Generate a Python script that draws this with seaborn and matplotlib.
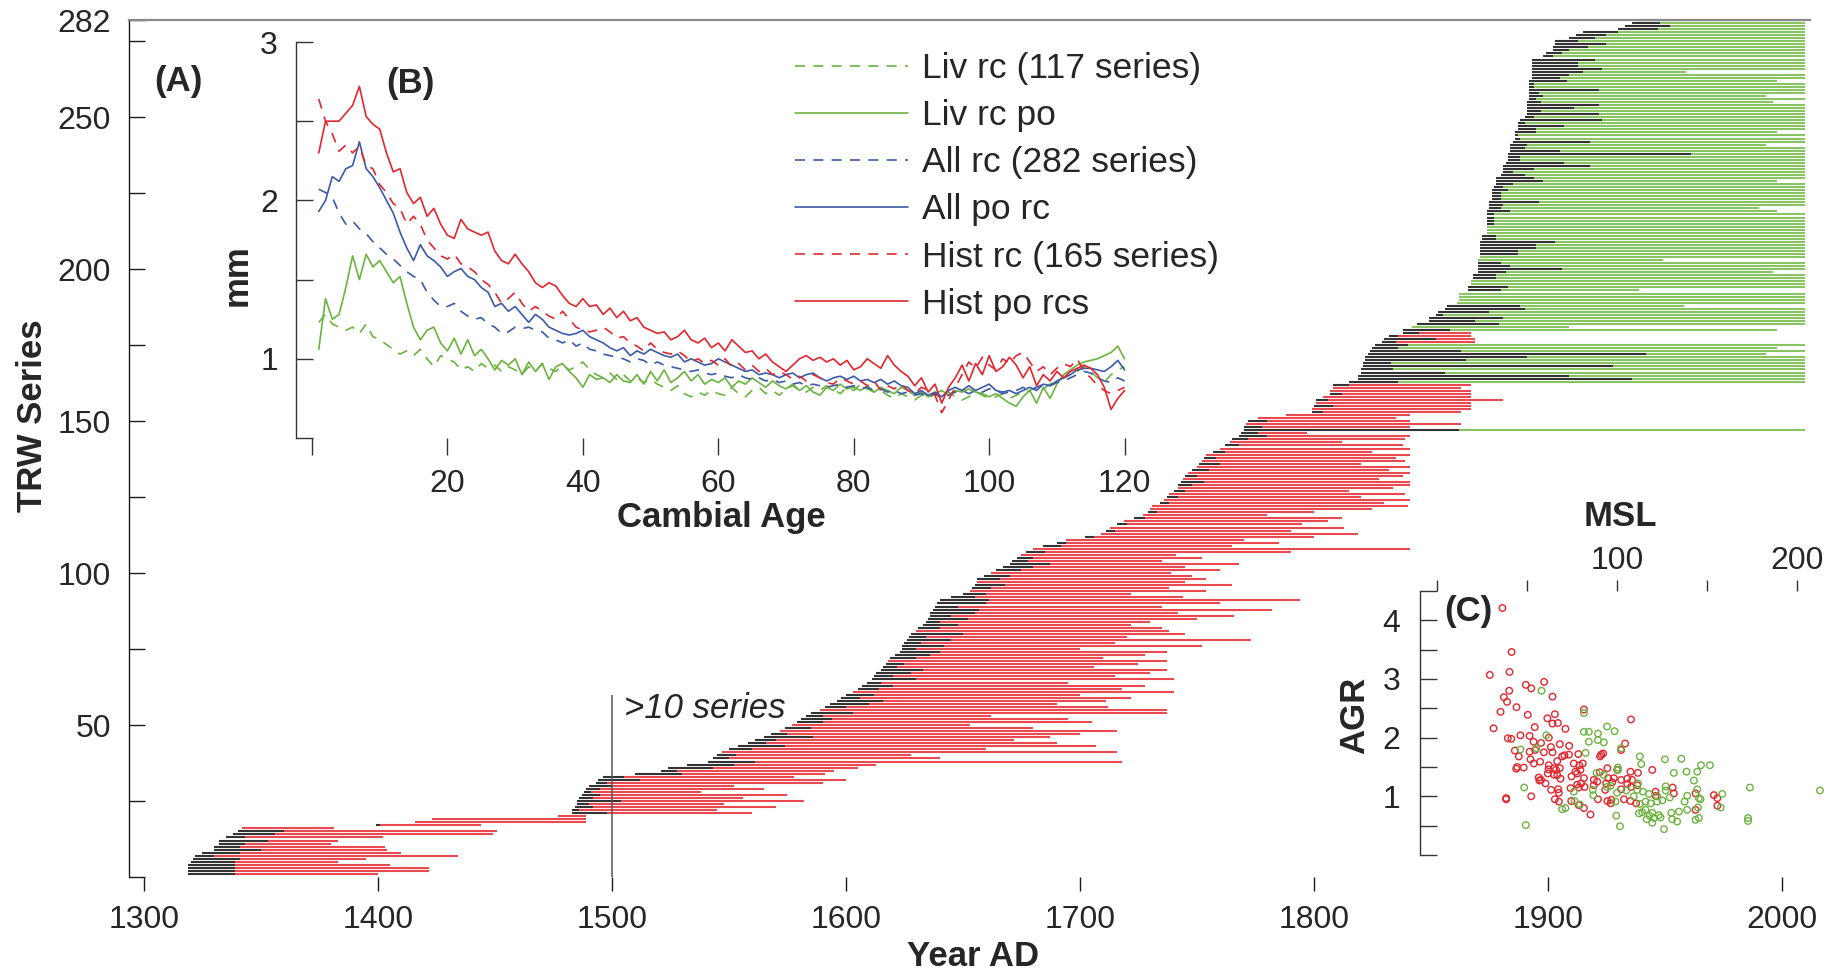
import numpy as np
import matplotlib
matplotlib.use("Agg")
import matplotlib.pyplot as plt
from matplotlib.lines import Line2D
import seaborn as sns

# ---------------- (A) TRW series: start year, end of black (pith offset) part, last year, H=historic / L=living
series_start = [
    1319, 1319, 1319, 1319, 1320, 1321, 1322, 1325, 1330, 1330, 1332, 1332, 1335, 1338, 1340, 1342, 1399, 1416, 1423, 1477,
    1483, 1483, 1484, 1485, 1485, 1486, 1487, 1488, 1489, 1490, 1493, 1494, 1496, 1510, 1521, 1524, 1532, 1541, 1543, 1545,
    1547, 1550, 1554, 1558, 1561, 1565, 1568, 1572, 1574, 1577, 1579, 1581, 1583, 1585, 1589, 1591, 1593, 1596, 1598, 1600,
    1603, 1605, 1607, 1609, 1611, 1612, 1613, 1615, 1616, 1617, 1618, 1619, 1621, 1623, 1624, 1624, 1625, 1626, 1627, 1628,
    1630, 1631, 1633, 1634, 1635, 1636, 1636, 1637, 1638, 1639, 1640, 1645, 1650, 1653, 1654, 1655, 1656, 1656, 1659, 1662,
    1664, 1667, 1670, 1671, 1673, 1675, 1677, 1680, 1684, 1690, 1694, 1702, 1709, 1711, 1713, 1716, 1719, 1723, 1727, 1729,
    1730, 1731, 1734, 1736, 1737, 1738, 1740, 1742, 1742, 1743, 1744, 1745, 1746, 1748, 1750, 1751, 1752, 1753, 1754, 1757,
    1760, 1762, 1764, 1765, 1768, 1769, 1770, 1770, 1771, 1772, 1776, 1788, 1799, 1799, 1800, 1801, 1801, 1804, 1807, 1807,
    1808, 1808, 1815, 1819, 1819, 1820, 1820, 1821, 1821, 1822, 1822, 1823, 1824, 1825, 1826, 1829, 1830, 1832, 1838, 1838,
    1842, 1844, 1849, 1849, 1852, 1853, 1856, 1857, 1861, 1862, 1862, 1862, 1866, 1866, 1867, 1867, 1868, 1868, 1870, 1870,
    1870, 1870, 1870, 1871, 1871, 1871, 1871, 1871, 1871, 1872, 1872, 1874, 1874, 1874, 1874, 1874, 1874, 1874, 1874, 1875,
    1875, 1875, 1876, 1876, 1876, 1876, 1877, 1878, 1878, 1878, 1880, 1881, 1881, 1881, 1882, 1883, 1883, 1883, 1884, 1884,
    1884, 1885, 1886, 1886, 1886, 1887, 1887, 1887, 1888, 1890, 1891, 1891, 1891, 1891, 1891, 1892, 1892, 1892, 1892, 1892,
    1892, 1892, 1893, 1893, 1893, 1893, 1893, 1893, 1893, 1898, 1899, 1902, 1902, 1903, 1903, 1909, 1912, 1915, 1930, 1933,
    1936, 1938]
series_pith = [
    1339, 1339, 1339, 1339, 1339, 1341, 1330, 1341, 1350, 1341, 1343, 1353, 1343, 1356, 1360, 1342, 1401, 1416, 1423, 1477,
    1498, 1486, 1492, 1490, 1504, 1492, 1495, 1491, 1495, 1500, 1498, 1512, 1505, 1530, 1528, 1543, 1552, 1561, 1550, 1553,
    1547, 1560, 1574, 1566, 1570, 1586, 1575, 1572, 1585, 1577, 1590, 1594, 1590, 1603, 1589, 1600, 1610, 1616, 1606, 1612,
    1603, 1614, 1620, 1615, 1630, 1620, 1628, 1633, 1622, 1625, 1618, 1630, 1636, 1640, 1630, 1642, 1632, 1645, 1634, 1650,
    1630, 1640, 1648, 1640, 1652, 1645, 1655, 1657, 1648, 1660, 1661, 1655, 1660, 1653, 1662, 1668, 1656, 1666, 1670, 1662,
    1675, 1680, 1687, 1678, 1680, 1675, 1685, 1680, 1692, 1694, 1694, 1706, 1709, 1715, 1713, 1720, 1719, 1728, 1727, 1733,
    1730, 1731, 1738, 1736, 1742, 1738, 1745, 1742, 1748, 1753, 1744, 1750, 1746, 1755, 1750, 1760, 1752, 1758, 1754, 1762,
    1760, 1768, 1764, 1772, 1780, 1776, 1862, 1778, 1771, 1780, 1776, 1788, 1804, 1799, 1808, 1801, 1806, 1804, 1812, 1807,
    1808, 1815, 1836, 1936, 1909, 1856, 1834, 1928, 1833, 1865, 1891, 1942, 1863, 1836, 1840, 1835, 1852, 1836, 1845, 1858,
    1842, 1879, 1869, 1881, 1855, 1875, 1890, 1888, 1861, 1862, 1862, 1862, 1880, 1883, 1867, 1867, 1878, 1878, 1882, 1906,
    1884, 1880, 1870, 1871, 1887, 1887, 1895, 1895, 1903, 1878, 1878, 1874, 1874, 1874, 1877, 1877, 1877, 1877, 1884, 1880,
    1881, 1896, 1880, 1880, 1880, 1883, 1881, 1885, 1898, 1894, 1890, 1885, 1894, 1918, 1907, 1888, 1888, 1961, 1905, 1890,
    1891, 1918, 1888, 1887, 1895, 1895, 1907, 1890, 1923, 1894, 1922, 1897, 1911, 1922, 1897, 1895, 1898, 1896, 1922, 1894,
    1894, 1908, 1905, 1909, 1915, 1923, 1913, 1913, 1920, 1902, 1906, 1909, 1917, 1925, 1913, 1920, 1925, 1930, 1947, 1952,
    1948, 1951]
series_end = [
    1400, 1422, 1422, 1405, 1383, 1395, 1434, 1410, 1404, 1403, 1380, 1383, 1402, 1449, 1451, 1381, 1444, 1489, 1489, 1489,
    1560, 1545, 1570, 1548, 1582, 1556, 1575, 1538, 1565, 1552, 1590, 1600, 1578, 1591, 1595, 1605, 1613, 1718, 1640, 1628,
    1716, 1660, 1707, 1690, 1672, 1687, 1700, 1716, 1680, 1653, 1705, 1695, 1662, 1737, 1737, 1712, 1690, 1711, 1722, 1700,
    1740, 1718, 1728, 1695, 1740, 1715, 1730, 1737, 1706, 1725, 1737, 1710, 1728, 1737, 1700, 1752, 1715, 1773, 1720, 1745,
    1738, 1735, 1722, 1730, 1750, 1766, 1742, 1782, 1735, 1760, 1794, 1744, 1722, 1754, 1738, 1765, 1745, 1754, 1748, 1739,
    1760, 1745, 1768, 1735, 1752, 1741, 1790, 1841, 1765, 1785, 1770, 1800, 1819, 1790, 1813, 1795, 1806, 1812, 1780, 1800,
    1825, 1840, 1830, 1841, 1820, 1839, 1815, 1834, 1841, 1841, 1828, 1838, 1841, 1832, 1841, 1820, 1839, 1835, 1841, 1825,
    1841, 1838, 1812, 1839, 1841, 1797, 2010, 1841, 1863, 1841, 1835, 1841, 1863, 1867, 1867, 1867, 1881, 1867, 1867, 1867,
    1863, 1867, 2010, 2010, 2010, 2010, 2010, 2010, 2010, 2010, 2010, 1993, 2010, 1998, 2010, 1869, 1869, 1867, 1867, 1998,
    1909, 2010, 2010, 2010, 2010, 2010, 2010, 1958, 2010, 2010, 2010, 2010, 1939, 2010, 2010, 2010, 2010, 2010, 1996, 2010,
    2010, 2010, 1949, 2010, 2010, 2010, 2010, 2010, 2010, 2010, 2010, 2010, 2010, 2010, 2010, 2010, 2010, 2010, 1998, 1990,
    2010, 2010, 2010, 2010, 2010, 2010, 2010, 2010, 1998, 2010, 2010, 2010, 2010, 2010, 2010, 2010, 2010, 2010, 2010, 2010,
    1993, 2010, 2010, 2010, 1998, 2010, 2010, 2010, 2010, 2010, 2010, 2010, 2010, 2010, 1996, 2010, 1993, 2010, 2010, 2010,
    2010, 1998, 2010, 2010, 1959, 2010, 2010, 2010, 2010, 2010, 2010, 2010, 2010, 2010, 2010, 2010, 2010, 2010, 2010, 2010,
    2010, 2010]
series_kind = (
    "HHHHHHHHHHHHHHHHHHHH" "HHHHHHHHHHHHHHHHHHHH" "HHHHHHHHHHHHHHHHHHHH" "HHHHHHHHHHHHHHHHHHHH"
    "HHHHHHHHHHHHHHHHHHHH" "HHHHHHHHHHHHHHHHHHHH" "HHHHHHHHHHHHHHHHHHHH" "HHHHHHLHHHHHHHHHHHHH"
    "HHLLLLLLLLLLLLLHHHHL" "LLLLLLLLLLLLLLLLLLLL" "LLLLLLLLLLLLLLLLLLLL" "LLLLLLLLLLLLLLLLLLLL"
    "LLLLLLLLLLLLLLLLLLLL" "LLLLLLLLLLLLLLLLLLLL" "LL")

# ---------------- (B) regional curves, mm per cambial age
cambial_age = list(range(1, 121))
liv_rc = [1.23, 1.28, 1.22, 1.20, 1.18, 1.20, 1.16, 1.22, 1.14, 1.12, 1.09, 1.06, 1.03, 1.05, 1.02, 1.06, 1.00, 0.95, 1.02, 1.00,
          0.98, 0.93, 0.95, 0.92, 0.97, 0.94, 0.96, 0.92, 0.95, 0.93, 0.90, 0.95, 0.92, 0.97, 0.94, 0.92, 0.96, 0.93, 0.95, 0.98,
          0.93, 0.90, 0.88, 0.91, 0.87, 0.90, 0.86, 0.88, 0.85, 0.87, 0.84, 0.82, 0.80, 0.83, 0.78, 0.76, 0.79, 0.77, 0.80, 0.78,
          0.77, 0.82, 0.78, 0.76, 0.80, 0.82, 0.78, 0.80, 0.77, 0.81, 0.83, 0.80, 0.79, 0.82, 0.80, 0.83, 0.81, 0.78, 0.82, 0.80,
          0.84, 0.81, 0.79, 0.80, 0.77, 0.75, 0.78, 0.76, 0.74, 0.77, 0.75, 0.78, 0.76, 0.79, 0.76, 0.74, 0.76, 0.79, 0.77, 0.75,
          0.76, 0.78, 0.75, 0.77, 0.79, 0.80, 0.82, 0.81, 0.84, 0.86, 0.88, 0.90, 0.92, 0.95, 0.92, 0.88, 0.85, 0.90, 0.93, 0.95]
liv_po = [1.06, 1.38, 1.25, 1.28, 1.45, 1.65, 1.50, 1.66, 1.58, 1.62, 1.55, 1.48, 1.52, 1.35, 1.20, 1.12, 1.18, 1.20, 1.10, 1.05,
          1.13, 1.03, 1.12, 1.02, 1.06, 1.00, 0.93, 0.99, 0.96, 1.00, 0.90, 0.98, 0.92, 0.97, 0.87, 0.95, 0.97, 0.92, 0.88, 0.82,
          0.90, 0.87, 0.88, 0.85, 0.90, 0.86, 0.85, 0.90, 0.84, 0.92, 0.86, 0.93, 0.85, 0.88, 0.92, 0.86, 0.90, 0.84, 0.87, 0.85,
          0.88, 0.82, 0.86, 0.84, 0.88, 0.85, 0.82, 0.86, 0.83, 0.81, 0.84, 0.80, 0.83, 0.79, 0.77, 0.82, 0.80, 0.84, 0.81, 0.82,
          0.80, 0.83, 0.79, 0.82, 0.80, 0.78, 0.82, 0.80, 0.77, 0.79, 0.76, 0.78, 0.80, 0.77, 0.80, 0.79, 0.81, 0.79, 0.78, 0.76,
          0.78, 0.75, 0.72, 0.70, 0.76, 0.80, 0.72, 0.82, 0.75, 0.84, 0.90, 0.93, 0.96, 0.98, 0.99, 1.00, 1.02, 1.04, 1.08, 1.00]
all_rc = [2.07, 2.05, 2.02, 1.92, 1.85, 1.87, 1.82, 1.79, 1.74, 1.70, 1.66, 1.63, 1.59, 1.55, 1.52, 1.50, 1.42, 1.37, 1.33, 1.33,
          1.35, 1.30, 1.27, 1.25, 1.26, 1.22, 1.20, 1.16, 1.17, 1.20, 1.19, 1.20, 1.18, 1.17, 1.13, 1.12, 1.10, 1.12, 1.08, 1.10,
          1.06, 1.05, 1.03, 1.02, 1.01, 1.00, 0.98, 1.00, 0.99, 0.96, 0.98, 0.96, 0.95, 0.94, 0.93, 0.92, 0.93, 0.91, 0.90, 0.91,
          0.89, 0.88, 0.90, 0.88, 0.87, 0.88, 0.86, 0.87, 0.85, 0.86, 0.84, 0.85, 0.83, 0.84, 0.83, 0.82, 0.83, 0.84, 0.82, 0.83,
          0.81, 0.82, 0.80, 0.81, 0.79, 0.80, 0.78, 0.79, 0.77, 0.78, 0.76, 0.78, 0.75, 0.77, 0.79, 0.80, 0.78, 0.80, 0.79, 0.81,
          0.80, 0.78, 0.79, 0.80, 0.82, 0.80, 0.82, 0.84, 0.83, 0.85, 0.86, 0.88, 0.90, 0.92, 0.91, 0.88, 0.86, 0.85, 0.88, 0.86]
all_po = [1.93, 2.00, 2.15, 2.12, 2.20, 2.22, 2.37, 2.20, 2.15, 2.08, 2.00, 1.92, 1.80, 1.70, 1.62, 1.72, 1.65, 1.62, 1.58, 1.52,
          1.55, 1.57, 1.52, 1.50, 1.45, 1.42, 1.33, 1.35, 1.30, 1.33, 1.28, 1.23, 1.28, 1.25, 1.20, 1.18, 1.16, 1.15, 1.16, 1.18,
          1.14, 1.12, 1.10, 1.07, 1.05, 1.07, 1.02, 1.05, 1.03, 1.06, 1.04, 1.02, 1.01, 1.03, 0.98, 1.00, 0.98, 0.96, 0.97, 1.00,
          0.98, 0.96, 0.94, 0.92, 0.93, 0.90, 0.91, 0.90, 0.88, 0.90, 0.91, 0.88, 0.90, 0.91, 0.88, 0.86, 0.88, 0.89, 0.87, 0.89,
          0.86, 0.87, 0.85, 0.87, 0.84, 0.86, 0.83, 0.82, 0.78, 0.80, 0.77, 0.79, 0.76, 0.80, 0.82, 0.80, 0.83, 0.80, 0.82, 0.84,
          0.80, 0.79, 0.80, 0.78, 0.80, 0.82, 0.80, 0.84, 0.83, 0.86, 0.88, 0.90, 0.93, 0.94, 0.94, 0.93, 0.92, 0.95, 0.99, 0.93]
hist_rc = [2.64, 2.50, 2.42, 2.31, 2.35, 2.30, 2.34, 2.22, 2.20, 2.10, 2.05, 1.98, 1.95, 1.85, 1.90, 1.85, 1.75, 1.70, 1.65, 1.63,
           1.66, 1.60, 1.58, 1.55, 1.50, 1.47, 1.42, 1.35, 1.38, 1.42, 1.35, 1.30, 1.33, 1.30, 1.27, 1.25, 1.30, 1.25, 1.20, 1.18,
           1.17, 1.18, 1.20, 1.17, 1.13, 1.14, 1.10, 1.08, 1.05, 1.10, 1.06, 1.04, 1.03, 1.05, 1.02, 0.98, 1.00, 0.97, 0.99, 0.96,
           1.00, 0.95, 0.97, 0.93, 0.96, 0.92, 0.94, 0.90, 0.92, 0.90, 0.87, 0.89, 0.86, 0.90, 0.88, 0.85, 0.84, 0.88, 0.86, 0.84,
           0.86, 0.83, 0.86, 0.80, 0.83, 0.81, 0.84, 0.80, 0.78, 0.82, 0.80, 0.77, 0.66, 0.74, 0.82, 0.90, 0.98, 0.94, 1.01, 0.96,
           0.93, 1.00, 0.97, 1.02, 1.04, 0.98, 0.92, 0.95, 0.90, 0.94, 0.97, 0.95, 1.00, 0.92, 0.88, 0.83, 0.80, 0.78, 0.80, 0.82]
hist_po = [2.30, 2.50, 2.50, 2.50, 2.55, 2.60, 2.72, 2.53, 2.48, 2.45, 2.30, 2.18, 2.20, 2.05, 1.98, 2.02, 1.90, 1.95, 1.85, 1.78,
           1.76, 1.88, 1.82, 1.80, 1.78, 1.80, 1.68, 1.62, 1.60, 1.66, 1.60, 1.55, 1.48, 1.45, 1.48, 1.46, 1.40, 1.35, 1.33, 1.38,
           1.33, 1.34, 1.28, 1.32, 1.26, 1.30, 1.24, 1.26, 1.20, 1.18, 1.16, 1.17, 1.12, 1.14, 1.18, 1.12, 1.10, 1.13, 1.07, 1.10,
           1.05, 1.12, 1.08, 1.04, 1.05, 1.00, 1.03, 0.98, 0.95, 0.92, 0.96, 1.00, 1.02, 0.99, 1.01, 0.98, 1.00, 0.96, 0.99, 0.93,
           0.95, 1.00, 0.97, 0.94, 1.02, 0.96, 0.92, 0.89, 0.83, 0.88, 0.79, 0.84, 0.72, 0.82, 0.88, 0.96, 0.86, 0.97, 0.90, 1.02,
           0.92, 0.95, 1.01, 0.96, 0.88, 0.95, 0.83, 0.90, 0.86, 0.92, 0.88, 0.92, 0.94, 0.96, 0.94, 0.90, 0.82, 0.68, 0.75, 0.80]
curve_labels = ["Liv rc (117 series)", "Liv rc po", "All rc (282 series)", "All po rc",
                "Hist rc (165 series)", "Hist po rcs"]

# ---------------- (C) AGR against first year, historic and living samples
hist_year = [1880.2, 1884.1, 1874.8, 1883.2, 1890.2, 1892.5, 1898.0, 1901.6, 1883.1, 1880.8,
             1882.2, 1886.2, 1879.4, 1891.0, 1899.4, 1902.6, 1901.6, 1903.9, 1894.0, 1876.4,
             1907.1, 1915.0, 1935.1, 1882.5, 1884.0, 1887.9, 1891.8, 1893.5, 1896.7, 1900.0,
             1904.7, 1908.7, 1900.9, 1885.5, 1891.8, 1894.2, 1897.9, 1901.6, 1906.7, 1908.6,
             1912.6, 1922.4, 1923.2, 1932.6, 1930.9, 1887.2, 1892.2, 1893.6, 1896.3, 1900.0,
             1903.6, 1905.7, 1910.7, 1913.1, 1914.5, 1921.9, 1886.5, 1889.3, 1886.1, 1899.9,
             1902.2, 1903.1, 1904.7, 1899.6, 1902.2, 1903.6, 1911.4, 1912.1, 1913.5, 1921.8,
             1925.0, 1929.2, 1934.9, 1938.1, 1944.2, 1905.0, 1909.7, 1915.0, 1919.2, 1920.7,
             1925.4, 1927.8, 1930.9, 1933.5, 1935.6, 1895.7, 1896.7, 1898.6, 1896.0, 1912.1,
             1913.8, 1919.2, 1924.5, 1927.1, 1933.5, 1937.8, 1901.0, 1904.0, 1909.3, 1912.8,
             1915.3, 1924.1, 1930.9, 1935.1, 1945.6, 1953.4, 1952.9, 1970.5, 1972.0, 1962.7,
             1881.8, 1881.8, 1892.5, 1904.3, 1902.6, 1909.6, 1921.0, 1925.0, 1926.7, 1932.1,
             1934.9, 1937.3, 1912.8, 1915.0, 1917.8, 1962.7, 1972.0, 1904.3, 1926.4, 1945.6]
hist_agr = [4.21, 3.46, 3.07, 3.12, 2.90, 2.84, 2.95, 2.70, 2.80, 2.69,
            2.61, 2.52, 2.44, 2.39, 2.33, 2.40, 2.24, 2.25, 2.18, 2.16,
            2.15, 2.48, 2.31, 1.99, 1.98, 2.04, 2.03, 1.93, 1.91, 2.00,
            1.89, 1.86, 1.84, 1.78, 1.76, 1.79, 1.75, 1.75, 1.70, 1.71,
            1.72, 1.71, 1.73, 1.90, 1.79, 1.68, 1.63, 1.56, 1.59, 1.53,
            1.60, 1.68, 1.56, 1.53, 1.56, 1.68, 1.50, 1.49, 1.47, 1.46,
            1.48, 1.45, 1.48, 1.39, 1.37, 1.36, 1.42, 1.39, 1.45, 1.41,
            1.48, 1.45, 1.42, 1.40, 1.45, 1.30, 1.34, 1.31, 1.28, 1.25,
            1.31, 1.31, 1.28, 1.30, 1.28, 1.32, 1.28, 1.22, 1.27, 1.20,
            1.22, 1.19, 1.22, 1.24, 1.21, 1.19, 1.11, 1.12, 1.14, 1.15,
            1.16, 1.11, 1.12, 1.16, 1.08, 1.05, 1.15, 1.02, 0.97, 1.05,
            0.95, 0.97, 1.00, 1.06, 0.95, 0.92, 0.95, 0.92, 0.94, 0.95,
            0.92, 0.88, 0.85, 0.80, 0.69, 0.77, 0.84, 0.91, 0.88, 1.01]
liv_year = [1896.9, 1915.0, 1924.9, 1928.1, 1915.0, 1917.1, 1921.0, 1921.0, 1923.5, 1917.1,
            1898.9, 1894.7, 1887.9, 1915.7, 1930.9, 1938.9, 1949.6, 1956.6, 1939.5, 1965.0,
            1968.8, 1920.4, 1929.5, 1929.5, 1953.4, 1958.8, 1963.4, 1923.5, 1938.1, 1962.0,
            1910.7, 1918.8, 1926.4, 1929.2, 1933.1, 1937.8, 1940.2, 1942.8, 1946.3, 1949.9,
            1949.9, 1951.7, 1959.1, 1963.4, 1964.1, 1974.1, 1985.9, 2015.8, 1889.5, 1890.2,
            1905.7, 1907.1, 1911.0, 1913.3, 1919.0, 1924.9, 1928.5, 1928.8, 1930.4, 1936.3,
            1938.9, 1939.9, 1941.3, 1941.8, 1943.0, 1944.2, 1944.2, 1944.9, 1947.0, 1947.7,
            1948.5, 1949.2, 1952.3, 1952.7, 1954.8, 1955.6, 1958.0, 1959.1, 1962.7, 1964.1,
            1963.7, 1964.8, 1973.4, 1985.1, 1985.1, 1943.5, 1946.3, 1938.5, 1941.3]
liv_agr = [2.80, 2.42, 2.19, 2.11, 2.10, 2.10, 2.07, 1.96, 1.92, 1.93,
           2.04, 1.82, 1.80, 1.74, 1.82, 1.68, 1.63, 1.64, 1.55, 1.53,
           1.53, 1.40, 1.49, 1.45, 1.40, 1.42, 1.42, 1.36, 1.22, 1.27,
           1.08, 1.11, 1.18, 1.06, 1.10, 1.11, 1.08, 1.04, 1.00, 1.17,
           1.10, 0.98, 1.01, 1.12, 0.97, 1.04, 1.15, 1.10, 1.15, 0.51,
           0.78, 0.80, 0.92, 0.86, 1.02, 1.16, 0.91, 0.67, 0.49, 1.00,
           0.87, 0.73, 0.91, 0.61, 0.67, 0.72, 0.55, 0.63, 0.68, 0.64,
           0.93, 0.44, 0.72, 0.61, 0.57, 0.74, 0.91, 0.77, 0.60, 0.63,
           0.81, 0.95, 0.81, 0.63, 0.58, 0.88, 0.91, 0.71, 0.77]

RED = "#e3262e"
GREEN = "#6bb33f"
BLUE = "#3b5aa8"
SER_RED = "#e9494f"
SER_GREEN = "#88c461"
SER_BLACK = "#333333"
DASH = (0, (6, 5))

sns.set_theme(style="white")
plt.rcParams["font.family"] = ["Liberation Sans", "DejaVu Sans"]

W, H = 1839, 973
fig = plt.figure(figsize=(W / 100, H / 100), dpi=100)


def fx(px):
    return px / W


def fy(py):
    return 1 - py / H


# ---- panel A
ax = fig.add_axes([fx(129), fy(877), fx(1810) - fx(129), fy(20) - fy(877)])
ax.set_facecolor("none")
rows = np.arange(1, len(series_start) + 1)
kinds = np.array(list(series_kind))
colors = np.where(kinds == "H", SER_RED, SER_GREEN)
ax.hlines(rows, series_pith, series_end, colors=colors, lw=1.5)
ax.hlines(rows, series_start, series_pith, colors=SER_BLACK, lw=1.5)
ax.vlines(1500, 0, 60, colors="#555555", lw=1.1)
ax.text(1505, 55.6, ">10 series", style="italic", fontsize=25, va="center", ha="left")

ax.set_xlim(1293.6, 2012)
ax.set_ylim(0, 282)
ax.set_xticks(range(1300, 2001, 100))
ax.set_xticklabels([str(v) for v in range(1300, 2001, 100)])
yt = [0, 25, 50, 75, 100, 125, 150, 175, 200, 225, 250, 275, 282]
ax.set_yticks(yt)
ax.set_yticklabels(["", "", "50", "", "100", "", "150", "", "200", "", "250", "", "282"])
ax.tick_params(axis="y", left=True, direction="in", length=11.5, width=1, pad=13,
               labelsize=23, color="k")
ax.tick_params(axis="x", bottom=True, direction="out", length=10, width=1, pad=10,
               labelsize=23, color="k")
for s in ["bottom", "right"]:
    ax.spines[s].set_visible(False)
ax.spines["left"].set_color("k")
ax.spines["left"].set_linewidth(1)
ax.spines["top"].set_color("#8a8a8a")
ax.spines["top"].set_linewidth(1.6)

# ---- panel B
axb = fig.add_axes([fx(296), fy(438), fx(1151) - fx(296), fy(42) - fy(438)])
axb.set_facecolor("none")
curves = [(liv_rc, GREEN, DASH), (liv_po, GREEN, "-"), (all_rc, BLUE, DASH),
          (all_po, BLUE, "-"), (hist_rc, RED, DASH), (hist_po, RED, "-")]
for vals, c, ls in curves:
    sns.lineplot(x=cambial_age, y=vals, ax=axb, color=c, linestyle=ls, lw=1.2)
axb.set_xlim(-2.36, 123.9)
axb.set_ylim(0.5, 3.0)
axb.set_xticks([0, 20, 40, 60, 80, 100, 120])
axb.set_xticklabels(["", "20", "40", "60", "80", "100", "120"])
axb.set_yticks([0.5, 1, 1.5, 2, 2.5, 3])
axb.set_yticklabels(["", "1", "", "2", "", "3"])
axb.tick_params(axis="y", left=True, direction="in", length=12, width=1, pad=13,
                labelsize=23, color="#333333")
axb.tick_params(axis="x", bottom=True, direction="out", length=12, width=1, pad=10,
                labelsize=23, color="#333333")
axb.set_xlabel("")
axb.set_ylabel("")
for s in ["bottom", "right", "top"]:
    axb.spines[s].set_visible(False)
axb.spines["left"].set_color("#333333")
axb.spines["left"].set_linewidth(1)

handles = [Line2D([], [], color=c, linestyle=ls, lw=1.2) for _, c, ls in curves]
axb.legend(handles, curve_labels, loc="upper left", bbox_to_anchor=(fx(795), fy(52)),
           bbox_transform=fig.transFigure, frameon=False, fontsize=25.5, handlelength=3.2,
           handletextpad=0.4, labelspacing=0.4, borderpad=0, borderaxespad=0)

# ---- panel C
axc = fig.add_axes([fx(1420), fy(855), fx(1830) - fx(1420), fy(591) - fy(855)])
axc.set_facecolor("none")
sns.scatterplot(x=hist_year, y=hist_agr, ax=axc, marker="o", s=22, facecolor="none",
                edgecolor=RED, linewidth=1.0)
sns.scatterplot(x=liv_year, y=liv_agr, ax=axc, marker="o", s=22, facecolor="none",
                edgecolor=GREEN, linewidth=1.0)
axc.set_xlim(1845.0, 2020.1)
axc.set_ylim(0, 4.5)
axm = axc.twiny()
axm.set_xlim(-9.44, 218.3)
axm.set_xticks([0, 50, 100, 150, 200])
axm.set_xticklabels(["", "", "100", "", "200"])
axm.tick_params(axis="x", top=True, bottom=False, labeltop=True, labelbottom=False,
                direction="out", length=8, width=1, pad=3, labelsize=23, color="#333333")
for s in axm.spines.values():
    s.set_visible(False)
axc.set_xticks([])
axc.set_yticks([0, 0.5, 1, 1.5, 2, 2.5, 3, 3.5, 4, 4.5])
axc.set_yticklabels(["", "", "1", "", "2", "", "3", "", "4", ""])
axc.tick_params(axis="y", left=True, direction="in", length=12, width=1, pad=14,
                labelsize=23, color="#333333")
axc.set_xlabel("")
axc.set_ylabel("")
for s in ["bottom", "right", "top"]:
    axc.spines[s].set_visible(False)
axc.spines["left"].set_color("#333333")
axc.spines["left"].set_linewidth(1)

# ---- labels
bold = dict(fontsize=25, fontweight="bold", ha="center", va="center")
fig.text(fx(33), fy(416), "TRW Series", rotation=90, **bold)
fig.text(fx(973), fy(956), "Year AD", **bold)
fig.text(fx(178), fy(82), "(A)", **bold)
fig.text(fx(410), fy(83), "(B)", **bold)
fig.text(fx(237), fy(275), "mm", rotation=90, **bold)
fig.text(fx(721), fy(518), "Cambial Age", **bold)
fig.text(fx(1468), fy(612), "(C)", **bold)
fig.text(fx(1355), fy(715), "AGR", rotation=90, **bold)
fig.text(fx(1620), fy(517), "MSL", **bold)

fig.savefig("out.png", dpi=100)
